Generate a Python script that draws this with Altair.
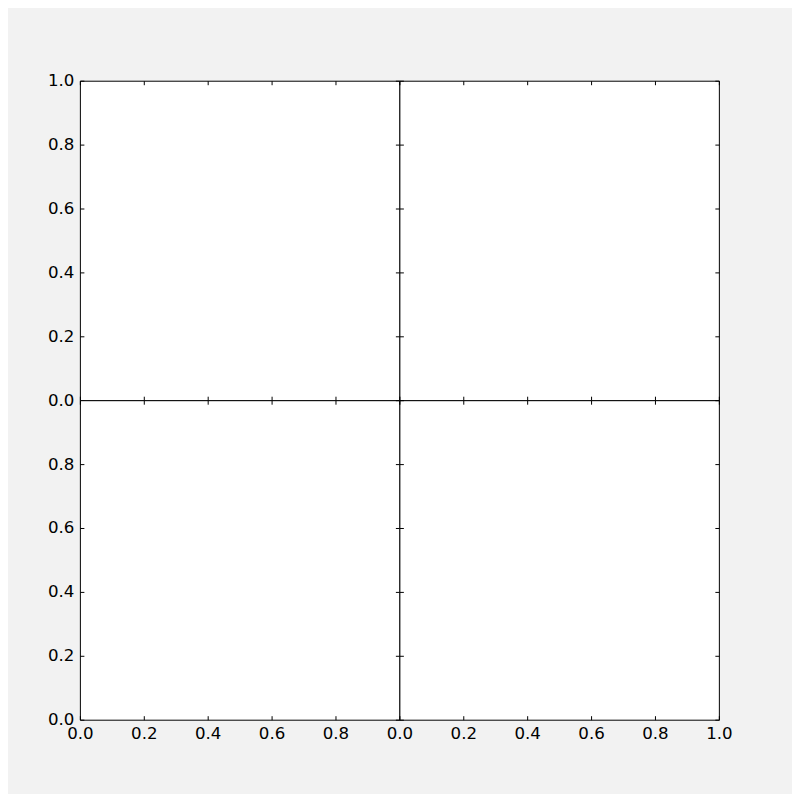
import altair as alt
import pandas as pd

# tick positions shared by every panel; the lower-left panel drops its top value
ticks = [0.0, 0.2, 0.4, 0.6, 0.8, 1.0]
pruned = [0.0, 0.2, 0.4, 0.6, 0.8]

df = pd.DataFrame({"x": ticks, "y": ticks})


def axis(orient, values, labels):
    # inward ticks: shift the axis inside the frame by the tick length
    return alt.Axis(
        orient=orient, values=values, labels=labels, title="",
        domain=False, grid=False, tickSize=4, offset=-4, tickColor="black",
        labelPadding=6, labelFlush=False, labelOverlap=False, format=".1f",
        labelFont="DejaVu Sans", labelFontSize=16.67, labelColor="black",
    )


def panel(left_vals, bottom_vals, show_left, show_bottom):
    scale = alt.Scale(domain=[0, 1], nice=False, zero=False)
    base = alt.Chart(df).mark_point(opacity=0)
    near = base.encode(
        x=alt.X("x:Q", scale=scale, axis=axis("bottom", bottom_vals, show_bottom)),
        y=alt.Y("y:Q", scale=scale, axis=axis("left", left_vals, show_left)),
    )
    far = base.encode(
        x=alt.X("x:Q", scale=scale, axis=axis("top", ticks, False)),
        y=alt.Y("y:Q", scale=scale, axis=axis("right", ticks, False)),
    )
    return alt.layer(near, far).resolve_axis(x="independent", y="independent").properties(
        width=320, height=320
    )


chart = alt.concat(
    panel(ticks, ticks, True, False),
    panel(ticks, ticks, False, False),
    panel(pruned, pruned, True, True),
    panel(ticks, ticks, False, True),
    columns=2, spacing=0, bounds="flush",
).properties(
    background="#f2f2f2",
    padding={"left": 39.0, "top": 63.2, "right": 59.25, "bottom": 49.8},
).configure_view(stroke="black", strokeWidth=1, fill="white")

chart.save("out.html", embed_options={"renderer": "svg", "actions": False})
